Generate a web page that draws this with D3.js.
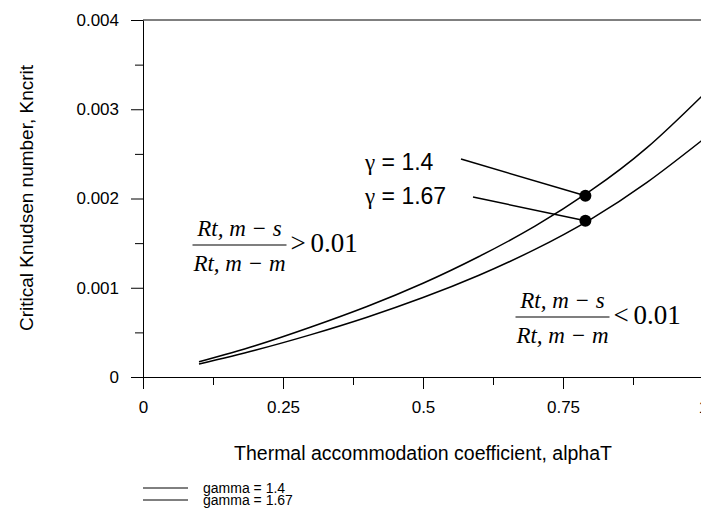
<!DOCTYPE html>
<html>
<head>
<meta charset="utf-8">
<script src="https://cdn.jsdelivr.net/npm/d3@7"></script>
<style>
  body { margin: 0; background: #fff; }
  svg { display: block; font-family: "Liberation Sans", Arial, sans-serif; }
  .math { font-family: "Liberation Serif", "Times New Roman", serif; }
</style>
</head>
<body>
<svg id="viz_area" width="701" height="526"></svg>
<script>
// values
const alpha = [0.1, 0.2, 0.3, 0.4, 0.5, 0.6, 0.7, 0.8, 0.9, 1.0]
const knGamma14 = [0.00017, 0.00035, 0.00056, 0.00079, 0.00105, 0.00135, 0.00169, 0.00209, 0.00257, 0.00316]
const knGamma167 = [0.000145, 0.0003, 0.000475, 0.00067, 0.00089, 0.00114, 0.00143, 0.00177, 0.00218, 0.00266]

const markAlpha = [0.79, 0.79]
const markKn = [0.00203, 0.00175]
const markLabels = ['1.4', '1.67']

const xTicks = [0, 0.25, 0.5, 0.75, 1]
const xTickLabels = ['0', '0.25', '0.5', '0.75', '1']
const xMinor = [0.125, 0.375, 0.625, 0.875]
const yTicks = [0, 0.001, 0.002, 0.003, 0.004]
const yTickLabels = ['0', '0.001', '0.002', '0.003', '0.004']
const yMinor = [0.0005, 0.0015, 0.0025, 0.0035]

const legendLabels = ['gamma = 1.4', 'gamma = 1.67']

const margin = { top: 20, left: 143, bottom: 149 }
const svgSize = { width: 701, height: 526 }
const plotWidth = 560
const plotHeight = svgSize.height - margin.top - margin.bottom

const svg = d3.select('#viz_area')

const xScale = d3.scaleLinear().domain([0, 1]).range([margin.left, margin.left + plotWidth])
const yScale = d3.scaleLinear().domain([0, 0.004]).range([margin.top + plotHeight, margin.top])

// top frame line
svg.append('line')
    .attr('x1', xScale(0)).attr('x2', xScale(1))
    .attr('y1', yScale(0.004)).attr('y2', yScale(0.004))
    .attr('stroke', 'black')

function styleAxis(g) {
    g.selectAll('path, line').attr('stroke', 'black').attr('stroke-width', 1)
    g.selectAll('text').attr('fill', 'black').attr('font-size', 17)
        .attr('font-family', '"Liberation Sans", Arial, sans-serif')
}

// x axis
const xAxisG = svg.append('g')
    .attr('transform', 'translate(0,' + yScale(0) + ')')
    .call(d3.axisBottom(xScale).tickValues(xTicks).tickSize(12).tickSizeOuter(0)
        .tickFormat((d, i) => xTickLabels[i]))
    .call(styleAxis)
xAxisG.selectAll('text').attr('y', 36).attr('dy', 0)
svg.append('g')
    .attr('transform', 'translate(0,' + yScale(0) + ')')
    .call(d3.axisBottom(xScale).tickValues(xMinor).tickSize(8).tickFormat(''))
    .call(styleAxis)
    .select('.domain').remove()

// y axis
svg.append('g')
    .attr('transform', 'translate(' + xScale(0) + ',0)')
    .call(d3.axisLeft(yScale).tickValues(yTicks).tickSize(12).tickSizeOuter(0).tickPadding(12)
        .tickFormat((d, i) => yTickLabels[i]))
    .call(styleAxis)
svg.append('g')
    .attr('transform', 'translate(' + xScale(0) + ',0)')
    .call(d3.axisLeft(yScale).tickValues(yMinor).tickSize(8).tickFormat(''))
    .call(styleAxis)
    .select('.domain').remove()

// axis titles
svg.append('text')
    .attr('x', 423).attr('y', 460)
    .attr('text-anchor', 'middle')
    .attr('font-size', 19.5)
    .text('Thermal accommodation coefficient, alphaT')

svg.append('text')
    .attr('transform', 'translate(33,198) rotate(-90)')
    .attr('text-anchor', 'middle')
    .attr('font-size', 19)
    .text('Critical Knudsen number, Kncrit')

// curves
const line = d3.line()
    .x((d, i) => xScale(alpha[i]))
    .y(d => yScale(d))
    .curve(d3.curveNatural)

;[knGamma14, knGamma167].forEach(series => {
    svg.append('path')
        .datum(series)
        .attr('d', line)
        .attr('fill', 'none')
        .attr('stroke', 'black')
        .attr('stroke-width', 1.5)
})

// gamma labels with leader lines
const labelPos = [{ x: 365, y: 170, lx: 461, ly: 159 }, { x: 365, y: 204, lx: 473, ly: 197 }]
markLabels.forEach((lab, i) => {
    svg.append('line')
        .attr('x1', labelPos[i].lx).attr('y1', labelPos[i].ly)
        .attr('x2', xScale(markAlpha[i])).attr('y2', yScale(markKn[i]))
        .attr('stroke', 'black').attr('stroke-width', 1.5)
    const t = svg.append('text')
        .attr('x', labelPos[i].x).attr('y', labelPos[i].y)
        .attr('font-size', 23)
    t.append('tspan').attr('font-family', '"Liberation Serif", "Times New Roman", serif').text('γ')
    t.append('tspan').text(' = ' + lab)
})

svg.selectAll('circle.mark')
    .data(markKn)
    .enter()
    .append('circle')
    .attr('class', 'mark')
    .attr('cx', (d, i) => xScale(markAlpha[i]))
    .attr('cy', d => yScale(d))
    .attr('r', 6)
    .attr('fill', 'black')

// ratio annotations
function fraction(cx, barY, rel) {
    const g = svg.append('g').attr('class', 'math')
    g.append('line')
        .attr('x1', cx - 47).attr('x2', cx + 47)
        .attr('y1', barY).attr('y2', barY)
        .attr('stroke', 'black').attr('stroke-width', 1.2)
    ;[['Rt, m \u2212 s', barY - 9], ['Rt, m \u2212 m', barY + 26]].forEach(([txt, y]) => {
        g.append('text')
            .attr('x', cx).attr('y', y)
            .attr('text-anchor', 'middle')
            .attr('font-size', 23).attr('font-style', 'italic')
            .text(txt)
    })
    g.append('text')
        .attr('x', cx + 51).attr('y', barY + 7)
        .attr('font-size', 27)
        .text(rel)
    g.append('text')
        .attr('x', cx + 71).attr('y', barY + 7)
        .attr('font-size', 27)
        .text('0.01')
}
fraction(239.5, 245, '>')
fraction(562.5, 317, '<')

// legend
legendLabels.forEach((lab, i) => {
    const y = 488 + i * 12
    svg.append('line')
        .attr('x1', 143).attr('x2', 188)
        .attr('y1', y).attr('y2', y)
        .attr('stroke', 'black')
    svg.append('text')
        .attr('x', 203).attr('y', y + 5)
        .attr('font-size', 14)
        .text(lab)
})
</script>
</body>
</html>
